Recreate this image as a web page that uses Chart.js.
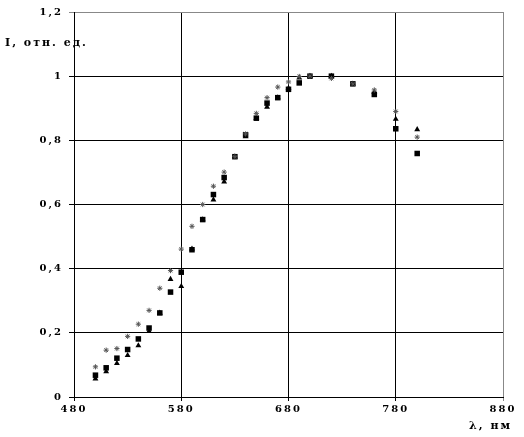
<!DOCTYPE html>
<html>
<head>
<meta charset="utf-8">
<script src="https://cdn.jsdelivr.net/npm/chart.js@4/dist/chart.umd.min.js"></script>
<style>
  html, body { margin: 0; padding: 0; background: #fff; }
  #wrap { width: 524px; height: 437px; }
</style>
</head>
<body>
<div id="wrap"><canvas id="myChart"></canvas></div>
<script>
// wavelengths, nm
var wavelengths = [500, 510, 520, 530, 540, 550, 560, 570, 580, 590, 600, 610, 620,
                   630, 640, 650, 660, 670, 680, 690, 700, 720, 740, 760, 780, 800];
// relative intensity, three measurement sets
var squares   = [0.068, 0.091, 0.121, 0.148, 0.181, 0.215, 0.262, 0.327, 0.389, 0.459, 0.553, 0.631, 0.684,
                 0.749, 0.817, 0.869, 0.916, 0.933, 0.959, 0.979, 1.000, 1.000, 0.976, 0.943, 0.836, 0.759];
var triangles = [0.057, 0.079, 0.105, 0.130, 0.160, 0.205, 0.262, 0.367, 0.345, 0.462, 0.553, 0.615, 0.671,
                 0.749, 0.812, 0.869, 0.904, 0.933, 0.962, 0.995, 1.000, 1.000, 0.976, 0.950, 0.866, 0.834];
var stars     = [0.094, 0.146, 0.151, 0.189, 0.227, 0.270, 0.339, 0.394, 0.461, 0.532, 0.600, 0.657, 0.701,
                 0.749, 0.820, 0.884, 0.933, 0.966, 0.982, 0.999, 1.000, 0.993, 0.976, 0.957, 0.890, 0.810];
var xTicks = [480, 580, 680, 780, 880];
var yTicks = [0, 0.2, 0.4, 0.6, 0.8, 1, 1.2];
var yTitle = 'I, отн. ед.';
var xTitle = 'λ, нм';

function pts(ys) {
  return wavelengths.map(function (x, i) { return { x: x, y: ys[i] }; });
}

var FONT = { family: '"DejaVu Serif", serif', size: 10, weight: 'bold' };

// spaced-out bold labels + the two axis captions
var textPlugin = {
  id: 'captions',
  beforeDraw: function (chart) {
    chart.ctx.letterSpacing = '2px';
  },
  afterDraw: function (chart) {
    var ctx = chart.ctx, area = chart.chartArea;
    ctx.save();
    ctx.letterSpacing = '2px';
    ctx.font = 'bold 11px "DejaVu Serif", serif';
    ctx.fillStyle = '#000';
    ctx.textBaseline = 'middle';
    ctx.textAlign = 'left';
    ctx.fillText(yTitle, 5, area.top + 31);
    ctx.textAlign = 'right';
    ctx.fillText(xTitle, area.right + 9, area.bottom + 29);
    ctx.restore();
  }
};

var ctx = document.getElementById('myChart').getContext('2d');

var myChart = new Chart(ctx, {
  type: 'scatter',
  data: {
    datasets: [
      {
        label: 'stars',
        data: pts(stars),
        pointStyle: 'star',
        pointRadius: 2.6,
        borderColor: '#555',
        backgroundColor: '#555',
        pointBorderWidth: 1
      },
      {
        label: 'triangles',
        data: pts(triangles),
        pointStyle: 'triangle',
        pointRadius: 3.4,
        borderColor: '#000',
        backgroundColor: '#000',
        pointBorderWidth: 0
      },
      {
        label: 'squares',
        data: pts(squares),
        pointStyle: 'rect',
        pointRadius: 3.9,
        borderColor: '#000',
        backgroundColor: '#000',
        pointBorderWidth: 0
      }
    ]
  },
  options: {
    responsive: true,
    maintainAspectRatio: false,
    animation: false,
    events: [],
    layout: { padding: { left: 0, top: 10, right: 21, bottom: 0 } },
    plugins: {
      legend: { display: false },
      tooltip: { enabled: false }
    },
    scales: {
      x: {
        type: 'linear',
        min: 480,
        max: 880,
        afterBuildTicks: function (axis) {
          axis.ticks = xTicks.map(function (v) { return { value: v }; });
        },
        afterFit: function (axis) { axis.height = 40; },
        ticks: {
          color: '#000',
          font: FONT,
          padding: 2,
          maxRotation: 0
        },
        grid: {
          color: function (c) { return c.tick && c.tick.value === 880 ? '#888' : '#000'; },
          lineWidth: 1,
          tickLength: 4,
          drawTicks: true
        },
        border: { color: '#000', width: 1 }
      },
      y: {
        min: 0,
        max: 1.2,
        afterBuildTicks: function (axis) {
          axis.ticks = yTicks.map(function (v) { return { value: v }; });
        },
        afterFit: function (axis) { axis.width = 74; },
        ticks: {
          color: '#000',
          font: FONT,
          padding: 6,
          callback: function (v) { return String(Math.round(v * 10) / 10).replace('.', ','); }
        },
        grid: {
          color: function (c) { return c.tick && c.tick.value === 1.2 ? '#888' : '#000'; },
          lineWidth: 1,
          tickLength: 5
        },
        border: { color: '#000', width: 1 }
      }
    }
  },
  plugins: [textPlugin]
});
</script>
</body>
</html>
